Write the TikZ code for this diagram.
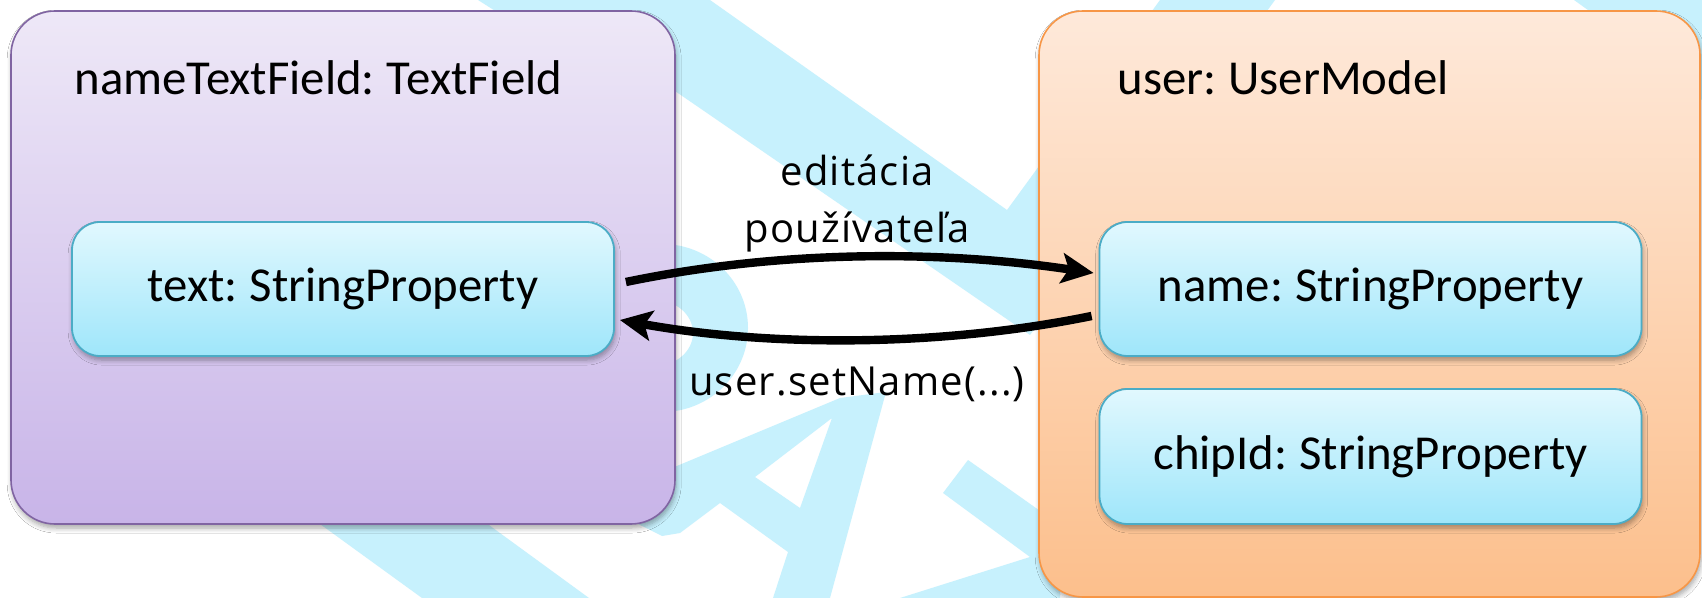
\documentclass[tikz,border=0pt]{standalone}
\usepackage{fontspec}
\usetikzlibrary{arrows.meta,shadows.blur,calc}
\newfontfamily\boxfont[WordSpace=0.75]{Carlito}
\newfontfamily\labelfont[LetterSpace=3]{Open Sans}
\definecolor{wmark}{RGB}{199,241,253}
\definecolor{viewline}{RGB}{128,100,162}
\definecolor{viewtop}{RGB}{238,232,247}
\definecolor{viewbot}{RGB}{200,180,232}
\definecolor{modelline}{RGB}{247,150,70}
\definecolor{modeltop}{RGB}{254,233,218}
\definecolor{modelbot}{RGB}{252,191,140}
\definecolor{propline}{RGB}{75,172,198}
\definecolor{proptop}{RGB}{225,248,254}
\definecolor{propbot}{RGB}{159,230,250}
\begin{document}
\begin{tikzpicture}[x=0.5pt,y=-0.5pt,
  softshadow/.style={blur shadow={shadow xshift=0.6pt,shadow yshift=-2pt,
      shadow blur radius=2.5pt,shadow blur steps=6,shadow opacity=35}},
  container/.style={rectangle,rounded corners=22pt,line width=0.8pt,inner sep=0pt,softshadow},
  viewbox/.style={container,draw=viewline,top color=viewtop,bottom color=viewbot},
  modelbox/.style={container,draw=modelline,top color=modeltop,bottom color=modelbot},
  propbox/.style={rectangle,rounded corners=14pt,line width=0.9pt,inner sep=0pt,
      draw=propline,top color=proptop,bottom color=propbot,softshadow,
      minimum width=271pt,minimum height=67pt,
      font=\boxfont\fontsize{24.4}{29}\selectfont},
  boxtitle/.style={anchor=base west,inner sep=0pt,font=\boxfont\fontsize{24.4}{29}\selectfont},
  flowlabel/.style={align=center,inner sep=0pt,font=\labelfont\fontsize{20}{28.5}\selectfont},
  flow/.style={line width=4.2pt,-{Stealth[length=16pt,width=15pt,inset=3.5pt]}}]
\useasboundingbox (0,0) rectangle (1702,598);
\fill[white] (0,0) rectangle (1702,598);

% background watermark strokes
\fill[wmark] (478,0) -- (710,0) -- (1007,210) -- (1160,0) -- (1275,0) -- (1030,335)
  -- (560,12) -- (500,14) -- cycle;
\fill[wmark] (1574,0) -- (1702,0) -- (1702,100) -- (1620,33) -- cycle;
\fill[wmark,even odd rule] (662,328) ellipse [x radius=43pt,y radius=42pt]
  (655,333) ellipse [x radius=19pt,y radius=16.5pt];
\fill[wmark,even odd rule] (600,498) -- (840,398) -- (886,392) -- (830,598) -- (773,598)
  -- (788,552) -- (720,503) -- (680,533) -- (662,536) -- (630,520) -- cycle
  (832,418) -- (755,477) -- (800,508) -- cycle;
\fill[wmark] (968,460) -- (1060,525) -- (1060,598) -- (900,598) -- (1030,557) -- (943,493) -- cycle;
\fill[wmark] (251,474) -- (419,474) -- (589,598) -- (422,598) -- cycle;

% view side
\node[viewbox,minimum width=332pt,minimum height=256.5pt] (view) at (343,267.5) {};
\node[boxtitle] (viewtitle) at (74,95) {nameTextField: TextField};
\node[propbox] (tp) at (343,289) {text: StringProperty};

% model side
\node[modelbox,minimum width=330.5pt,minimum height=293pt] (model) at (1369.5,304) {};
\node[boxtitle] (modeltitle) at (1117,95) {user: UserModel};
\node[propbox] (np) at (1370.5,289) {name: StringProperty};
\node[propbox,minimum height=67.5pt] (cp) at (1370.5,456.5) {chipId: StringProperty};

% bindings
\draw[flow] ($(tp.east)+(11,-7)$) .. controls (780,250) and (940,250) .. ($(np.west)+(-5,-16)$);
\draw[flow] ($(np.west)+(-7,27)$) .. controls (940,347) and (770,347) .. ($(tp.east)+(5,31)$);
\node[flowlabel] (edit) at (857,203) {editácia\\používateľa};
\node[flowlabel,anchor=base] (setname) at (857,396) {user.setName(...)};
\end{tikzpicture}
\end{document}
